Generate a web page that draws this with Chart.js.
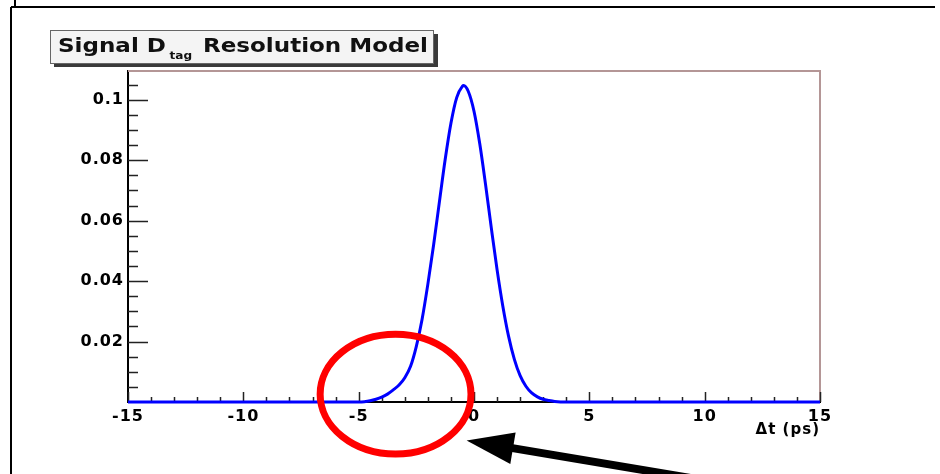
<!DOCTYPE html>
<html>
<head>
<meta charset="utf-8">
<script src="https://cdn.jsdelivr.net/npm/chart.js@4/dist/chart.umd.min.js"></script>
<style>
  html, body { margin: 0; padding: 0; background: #fff; }
  #wrap { width: 940px; height: 474px; position: relative; }
</style>
</head>
<body>
<div id="wrap"><canvas id="dtagChart"></canvas></div>
<script>
// ============================
// DATA
// ============================
const dt = [-15, -5, -4.75, -4.5, -4.25, -4, -3.75, -3.5, -3.25, -3, -2.75, -2.5, -2.25, -2,
            -1.75, -1.5, -1.25, -1, -0.75, -0.5, -0.45, -0.25, 0, 0.25, 0.5, 0.75, 1, 1.25,
            1.5, 1.75, 2, 2.25, 2.5, 2.75, 3, 3.25, 3.5, 4, 15];
const density = [0, 0, 0.0001, 0.0004, 0.0009, 0.0016, 0.0026, 0.0040, 0.0056, 0.0080, 0.0118, 0.0184, 0.0274, 0.0390,
                 0.0520, 0.0662, 0.0802, 0.0922, 0.1007, 0.1045, 0.1047, 0.1028, 0.0962, 0.0854, 0.0720, 0.0576, 0.0438, 0.0317,
                 0.0217, 0.0141, 0.0087, 0.0052, 0.0030, 0.0017, 0.0009, 0.0005, 0.0002, 0, 0];

const xTickValues = [-15, -10, -5, 0, 5, 10, 15];
const xTickLabels = ['-15', '-10', '-5', '0', '5', '10', '15'];
const yTickValues = [0.02, 0.04, 0.06, 0.08, 0.1];
const yTickLabels = ['0.02', '0.04', '0.06', '0.08', '0.1'];

const titleMain = 'Signal D';
const titleSub = 'tag';
const titleRest = 'Resolution Model';
const xAxisTitle = '\u0394t (ps)';

// highlight ellipse + arrow, in data units
const ring = { x: -3.4, y: 0.0026, rx: 3.27, ry: 0.0198 };
const arrow = { tipX: -0.32, tipY: -0.0127, tailX: 12.4, tailY: -0.029 };

const FONT = "'DejaVu Sans', 'Liberation Sans', sans-serif";

// ============================
// DRAWING HELPERS (ROOT look)
// ============================
const rootDecor = {
    id: 'rootDecor',
    beforeDraw(chart) {
        const c = chart.ctx;
        c.save();
        c.fillStyle = '#fff';
        c.fillRect(0, 0, chart.width, chart.height);
        c.restore();
        // wide ROOT-ish lettering for the axis texts
        c.letterSpacing = '1px';
    },
    beforeDatasetsDraw(chart) {
        const c = chart.ctx;
        c.letterSpacing = '0px';
        const { left, right, top, bottom } = chart.chartArea;
        const xs = chart.scales.x, ys = chart.scales.y;
        c.save();
        // top + right frame
        c.strokeStyle = '#b49696';
        c.lineWidth = 2;
        c.beginPath();
        c.moveTo(left, top);
        c.lineTo(right, top);
        c.lineTo(right, bottom);
        c.stroke();
        // inward tick marks
        c.strokeStyle = '#222';
        c.lineWidth = 1.5;
        c.beginPath();
        for (let v = -15; v <= 15; v++) {
            const px = Math.round(xs.getPixelForValue(v)) + 0.5;
            const len = (v % 5 === 0) ? 10 : 5;
            c.moveTo(px, bottom);
            c.lineTo(px, bottom - len);
        }
        for (let k = 1; k <= 21; k++) {
            const v = k * 0.005;
            const py = Math.round(ys.getPixelForValue(v)) + 0.5;
            const len = (k % 4 === 0) ? 20 : 10;
            c.moveTo(left, py);
            c.lineTo(left + len, py);
        }
        c.stroke();
        c.restore();
    },
    afterDraw(chart) {
        const c = chart.ctx;
        const xs = chart.scales.x, ys = chart.scales.y;
        c.save();

        // page frame lines
        c.strokeStyle = '#000';
        c.lineWidth = 2;
        c.beginPath();
        c.moveTo(15, 0); c.lineTo(15, 7);
        c.moveTo(11, 7); c.lineTo(935, 7);
        c.moveTo(11, 7); c.lineTo(11, chart.height);
        c.stroke();

        // title pave with shadow
        c.fillStyle = '#3a3a3a';
        c.fillRect(54, 34, 384, 33);
        c.fillStyle = '#f4f4f4';
        c.fillRect(50, 30, 383, 33);
        c.strokeStyle = '#666';
        c.lineWidth = 1;
        c.strokeRect(50.5, 30.5, 383, 33);

        c.fillStyle = '#111';
        c.textBaseline = 'alphabetic';
        c.textAlign = 'left';
        c.font = 'bold 19px ' + FONT;
        const wRest = c.measureText(titleRest).width;
        const sx = 225 / wRest;
        c.save();
        c.translate(58, 52);
        c.scale(sx, 1);
        c.fillText(titleMain, 0, 0);
        const wMain = c.measureText(titleMain).width;
        c.font = 'bold 10px ' + FONT;
        c.fillText(titleSub, wMain + 3, 7);
        c.font = 'bold 19px ' + FONT;
        c.fillText(titleRest, (203 - 58) / sx, 0);
        c.restore();

        // red ellipse
        const cx = xs.getPixelForValue(ring.x);
        const cy = ys.getPixelForValue(ring.y);
        const rx = Math.abs(xs.getPixelForValue(ring.x + ring.rx) - cx);
        const ry = Math.abs(ys.getPixelForValue(ring.y + ring.ry) - cy);
        c.strokeStyle = '#ff0000';
        c.lineWidth = 7;
        c.beginPath();
        c.ellipse(cx, cy, rx, ry, 0, 0, Math.PI * 2);
        c.stroke();

        // black arrow
        const tx = xs.getPixelForValue(arrow.tipX), ty = ys.getPixelForValue(arrow.tipY);
        const ex = xs.getPixelForValue(arrow.tailX), ey = ys.getPixelForValue(arrow.tailY);
        const dx = ex - tx, dy = ey - ty, d = Math.hypot(dx, dy);
        const ux = dx / d, uy = dy / d;
        const headLen = 47, headHalf = 16;
        const bx = tx + ux * headLen, by = ty + uy * headLen;
        c.strokeStyle = '#000';
        c.fillStyle = '#000';
        c.lineWidth = 8;
        c.beginPath();
        c.moveTo(bx - ux * 2, by - uy * 2);
        c.lineTo(ex, ey);
        c.stroke();
        c.beginPath();
        c.moveTo(tx, ty);
        c.lineTo(bx - uy * headHalf, by + ux * headHalf);
        c.lineTo(bx + uy * headHalf, by - ux * headHalf);
        c.closePath();
        c.fill();

        c.restore();
    }
};

// ============================
// CHART
// ============================
const ctx = document.getElementById('dtagChart');

new Chart(ctx, {
    type: 'line',
    data: {
        datasets: [{
            label: 'Signal Dtag Resolution Model',
            data: dt.map((x, i) => ({ x: x, y: density[i] })),
            borderColor: '#0000ff',
            borderWidth: 3,
            pointRadius: 0,
            fill: false,
            cubicInterpolationMode: 'monotone',
            clip: 6
        }]
    },
    options: {
        responsive: true,
        maintainAspectRatio: false,
        animation: false,
        events: [],
        layout: { padding: { top: 71, right: 120, left: 0, bottom: 0 } },
        plugins: {
            legend: { display: false },
            tooltip: { enabled: false }
        },
        scales: {
            x: {
                type: 'linear',
                min: -15,
                max: 15,
                afterBuildTicks: (scale) => { scale.ticks = xTickValues.map(v => ({ value: v })); },
                afterFit: (scale) => { scale.height = 72; },
                grid: { display: false, drawTicks: false },
                border: { display: true, color: '#000', width: 2 },
                ticks: {
                    padding: 5,
                    color: '#000',
                    font: { family: FONT, size: 16, weight: 'bold' },
                    maxRotation: 0,
                    autoSkip: false,
                    callback: (v) => {
                        const i = xTickValues.indexOf(v);
                        return i >= 0 ? xTickLabels[i] : '';
                    }
                },
                title: {
                    display: true,
                    text: xAxisTitle,
                    align: 'end',
                    color: '#000',
                    font: { family: FONT, size: 15, weight: 'bold' },
                    padding: { top: 0, bottom: 35 }
                }
            },
            y: {
                type: 'linear',
                min: 0,
                max: 0.1095,
                afterBuildTicks: (scale) => { scale.ticks = yTickValues.map(v => ({ value: v })); },
                afterFit: (scale) => { scale.width = 128; },
                grid: { display: false, drawTicks: false },
                border: { display: true, color: '#000', width: 2 },
                ticks: {
                    padding: 4,
                    color: '#000',
                    font: { family: FONT, size: 16, weight: 'bold' },
                    autoSkip: false,
                    callback: (v) => {
                        const i = yTickValues.findIndex(t => Math.abs(t - v) < 1e-9);
                        return i >= 0 ? yTickLabels[i] : '';
                    }
                }
            }
        }
    },
    plugins: [rootDecor]
});
</script>
</body>
</html>
